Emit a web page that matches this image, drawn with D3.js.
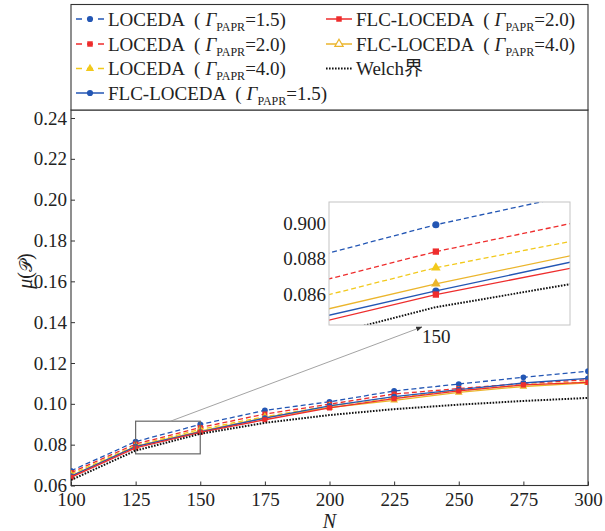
<!DOCTYPE html>
<html>
<head>
<meta charset="utf-8">
<script src="https://cdn.jsdelivr.net/npm/d3@7/dist/d3.min.js"></script>
<style>
  body { margin: 0; background: #fff; }
  svg text { font-family: "Liberation Serif", "Times New Roman", "Noto Sans CJK SC", serif; fill: #222; }
</style>
</head>
<body>
<div id="chart"></div>
<script>
// data
var nValues = [100, 125, 150, 175, 200, 225, 250, 275, 300];
var locedaG15 = [0.0672, 0.0815, 0.0899, 0.0968, 0.1010, 0.1063, 0.1097, 0.1130, 0.1160];
var locedaG20 = [0.0663, 0.0803, 0.0884, 0.0950, 0.0998, 0.1048, 0.1075, 0.1100, 0.1118];
var locedaG40 = [0.0655, 0.0795, 0.0875, 0.0937, 0.0990, 0.1030, 0.1065, 0.1093, 0.1108];
var flcG15    = [0.0646, 0.0790, 0.0862, 0.0930, 0.0990, 0.1035, 0.1070, 0.1102, 0.1125];
var flcG20    = [0.0640, 0.0784, 0.0860, 0.0922, 0.0980, 0.1025, 0.1063, 0.1093, 0.1105];
var flcG40    = [0.0647, 0.0792, 0.0866, 0.0932, 0.0982, 0.1017, 0.1056, 0.1085, 0.1103];
var welch     = [0.0627, 0.0771, 0.0853, 0.0907, 0.0945, 0.0974, 0.0996, 0.1014, 0.1029];

var yTicks = [0.06, 0.08, 0.10, 0.12, 0.14, 0.16, 0.18, 0.20, 0.22, 0.24];
var xTicks = [100, 125, 150, 175, 200, 225, 250, 275, 300];
var insetYTicks = [0.090, 0.088, 0.086];
var insetYLabels = ["0.900", "0.088", "0.086"];
var insetXTicks = [150];

// series styles
var series = [
  { name: "LOCEDA", g: "1.5", vals: locedaG15, color: "#2356b4", dash: "5,3", sym: d3.symbolCircle },
  { name: "LOCEDA", g: "2.0", vals: locedaG20, color: "#ee2d2d", dash: "5,3", sym: d3.symbolSquare },
  { name: "LOCEDA", g: "4.0", vals: locedaG40, color: "#f2c91c", dash: "5,3", sym: d3.symbolTriangle },
  { name: "FLC-LOCEDA", g: "1.5", vals: flcG15, color: "#2356b4", dash: null, sym: d3.symbolCircle },
  { name: "FLC-LOCEDA", g: "2.0", vals: flcG20, color: "#ee2d2d", dash: null, sym: d3.symbolSquare },
  { name: "FLC-LOCEDA", g: "4.0", vals: flcG40, color: "#ebb52c", dash: null, sym: d3.symbolTriangle, hollowLegend: true },
  { name: "Welch界", g: null, vals: welch, color: "#111", dash: "1.6,1.4", sym: null, width: 2 }
];

var width = 605, height = 531;
var plot = { left: 71, right: 588, top: 110, bottom: 485.5 };

var svg = d3.select("#chart").append("svg")
  .attr("width", width)
  .attr("height", height);

var x = d3.scaleLinear().domain([100, 300]).range([plot.left, plot.right]);
var y = d3.scaleLinear().domain([0.06, 0.24]).range([plot.bottom, 118]);

svg.append("clipPath").attr("id", "clipMain")
  .append("rect")
  .attr("x", plot.left).attr("y", plot.top)
  .attr("width", plot.right - plot.left).attr("height", plot.bottom - plot.top);

// axes
var yAxis = d3.axisLeft(y).tickValues(yTicks).tickFormat(d3.format(".2f"))
  .tickSizeInner(-4).tickSizeOuter(0).tickPadding(4);
var gy = svg.append("g").attr("transform", "translate(" + plot.left + ",0)").call(yAxis);
gy.select(".domain").remove();
gy.selectAll("line").attr("stroke", "#333");
gy.selectAll("text").attr("font-size", 19).style("font-family", "Liberation Serif");

var xAxis = d3.axisBottom(x).tickValues(xTicks).tickFormat(d3.format("d"))
  .tickSizeInner(-4).tickSizeOuter(0).tickPadding(7);
var gx = svg.append("g").attr("transform", "translate(0," + plot.bottom + ")").call(xAxis);
gx.select(".domain").remove();
gx.selectAll("line").attr("stroke", "#333");
gx.selectAll("text").attr("font-size", 19).style("font-family", "Liberation Serif");

// frame
svg.append("rect")
  .attr("x", plot.left).attr("y", plot.top)
  .attr("width", plot.right - plot.left).attr("height", plot.bottom - plot.top)
  .attr("fill", "none").attr("stroke", "#333").attr("stroke-width", 1.1);

// axis titles
svg.append("text")
  .attr("x", (plot.left + plot.right) / 2).attr("y", 528)
  .attr("text-anchor", "middle").attr("font-size", 20).attr("font-style", "italic")
  .text("N");

svg.append("text")
  .attr("transform", "translate(32,271) rotate(-90)")
  .attr("text-anchor", "middle").attr("font-size", 20)
  .html('<tspan font-style="italic">μ</tspan>(<tspan font-family="DejaVu Serif" font-size="17">𝒫</tspan>)');

// lines
function drawSeries(g, xs, ys, r) {
  var line = d3.line()
    .x(function(d) { return xs(d.n); })
    .y(function(d) { return ys(d.v); });
  var order = [0, 1, 2, 5, 3, 4, 6];
  order.forEach(function(i) {
    var s = series[i];
    var pts = nValues.map(function(n, j) { return { n: n, v: s.vals[j] }; });
    g.append("path")
      .datum(pts)
      .attr("d", line)
      .attr("fill", "none")
      .attr("stroke", s.color)
      .attr("stroke-width", s.width || 1.3)
      .attr("stroke-dasharray", s.dash);
    if (s.sym) {
      g.selectAll(null)
        .data(pts)
        .enter().append("path")
        .attr("transform", function(d) { return "translate(" + xs(d.n) + "," + ys(d.v) + ")"; })
        .attr("d", d3.symbol().type(s.sym).size(r))
        .attr("fill", s.color);
    }
  });
}

var gMain = svg.append("g").attr("clip-path", "url(#clipMain)");
drawSeries(gMain, x, y, 26);

// zoom rectangle
var zoomBox = { n0: 125, n1: 150, v0: 0.0755, v1: 0.0915 };
svg.append("rect")
  .attr("x", x(zoomBox.n0)).attr("y", y(zoomBox.v1))
  .attr("width", x(zoomBox.n1) - x(zoomBox.n0))
  .attr("height", y(zoomBox.v0) - y(zoomBox.v1))
  .attr("fill", "none").attr("stroke", "#666").attr("stroke-width", 1.2);

// inset
var inset = { left: 329, right: 570, top: 202, bottom: 325 };
var ix = d3.scaleLinear().domain([145.3, 155.9]).range([inset.left, inset.right]);
var iy = d3.scaleLinear().domain([0.0843, 0.09117]).range([inset.bottom, inset.top]);

svg.append("rect")
  .attr("x", inset.left).attr("y", inset.top)
  .attr("width", inset.right - inset.left).attr("height", inset.bottom - inset.top)
  .attr("fill", "#fff");

svg.append("clipPath").attr("id", "clipInset")
  .append("rect")
  .attr("x", inset.left).attr("y", inset.top)
  .attr("width", inset.right - inset.left).attr("height", inset.bottom - inset.top);

var gInset = svg.append("g").attr("clip-path", "url(#clipInset)");
drawSeries(gInset, ix, iy, 40);

svg.append("rect")
  .attr("x", inset.left).attr("y", inset.top)
  .attr("width", inset.right - inset.left).attr("height", inset.bottom - inset.top)
  .attr("fill", "none").attr("stroke", "#c4c4c4").attr("stroke-width", 1);

var iyAxis = d3.axisLeft(iy).tickValues(insetYTicks)
  .tickFormat(function(d, i) { return insetYLabels[i]; })
  .tickSize(0).tickPadding(3);
var giy = svg.append("g").attr("transform", "translate(" + inset.left + ",0)").call(iyAxis);
giy.select(".domain").remove();
giy.selectAll("text").attr("font-size", 19).style("font-family", "Liberation Serif");

var ixAxis = d3.axisBottom(ix).tickValues(insetXTicks).tickFormat(d3.format("d"))
  .tickSize(0).tickPadding(5);
var gix = svg.append("g").attr("transform", "translate(0," + inset.bottom + ")").call(ixAxis);
gix.select(".domain").remove();
gix.selectAll("text").attr("font-size", 19).style("font-family", "Liberation Serif");

// arrow from zoom box to inset
svg.append("defs").append("marker")
  .attr("id", "arrowHead")
  .attr("viewBox", "0 0 10 10").attr("refX", 9).attr("refY", 5)
  .attr("markerWidth", 7).attr("markerHeight", 7).attr("orient", "auto")
  .append("path").attr("d", "M0,1 L10,5 L0,9 z").attr("fill", "#333");

svg.append("line")
  .attr("x1", x(138.5)).attr("y1", y(zoomBox.v1))
  .attr("x2", ix(150) - 14).attr("y2", inset.bottom + 2)
  .attr("stroke", "#999").attr("stroke-width", 0.9)
  .attr("marker-end", "url(#arrowHead)");

// legend
var legend = svg.append("g");
legend.append("rect")
  .attr("x", plot.left).attr("y", 4.5)
  .attr("width", plot.right - plot.left).attr("height", plot.top - 4.5)
  .attr("fill", "#fff").attr("stroke", "#333").attr("stroke-width", 1.1);

var legendPos = [
  { x: 76, y: 19 }, { x: 76, y: 44 }, { x: 76, y: 68.5 }, { x: 76, y: 93 },
  { x: 326, y: 19 }, { x: 326, y: 44 }, { x: 326, y: 68.5 }
];
var legendOrder = [0, 1, 2, 3, 4, 5, 6];

legendOrder.forEach(function(si, k) {
  var s = series[si];
  var p = legendPos[k];
  var isFirstCol = p.x < 200;
  var len = isFirstCol ? 28 : 26;
  var item = legend.append("g").attr("transform", "translate(" + p.x + "," + p.y + ")");
  item.append("line")
    .attr("x1", 0).attr("x2", len).attr("y1", 0).attr("y2", 0)
    .attr("stroke", s.color).attr("stroke-width", s.width || 1.5)
    .attr("stroke-dasharray", s.dash ? (s.sym ? "6,5" : "1.6,1.4") : null);
  if (s.sym) {
    item.append("path")
      .attr("transform", "translate(" + (len / 2) + ",0)")
      .attr("d", d3.symbol().type(s.sym).size(30))
      .attr("fill", s.hollowLegend ? "#fff" : s.color)
      .attr("stroke", s.hollowLegend ? s.color : "none")
      .attr("stroke-width", 1.2);
  }
  var t = item.append("text")
    .attr("x", len + 4).attr("y", 6.5)
    .attr("font-size", 19);
  t.append("tspan").text(s.name);
  if (s.g) {
    t.append("tspan").attr("dx", 9).text("(");
    t.append("tspan").attr("dx", 5).attr("font-style", "italic").text("Γ");
    t.append("tspan").attr("dy", 5).attr("font-size", 12).text("PAPR");
    t.append("tspan").attr("dy", -5).text("=" + s.g + ")");
  }
});
</script>
</body>
</html>
